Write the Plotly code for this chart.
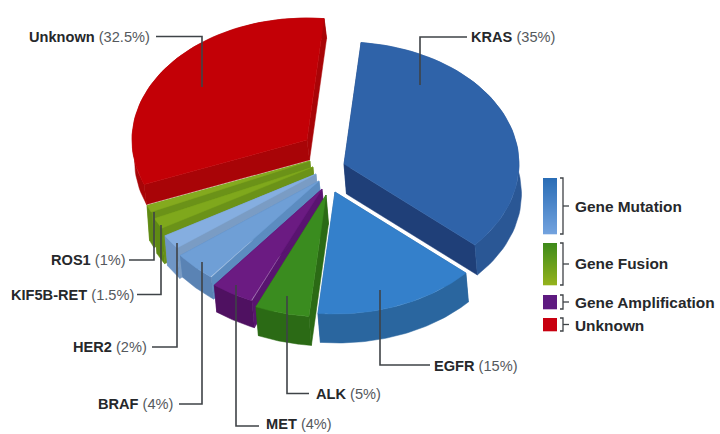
import numpy as np
import plotly.graph_objects as go

# Share of each driver alteration, clockwise from the top of the pie
genes = ["KRAS", "EGFR", "ALK", "MET", "BRAF", "HER2", "KIF5B-RET", "ROS1", "Unknown"]
shares = [35, 15, 5, 4, 4, 2, 1.5, 1, 32.5]
legend_groups = ["Gene Mutation", "Gene Fusion", "Gene Amplification", "Unknown"]

# Projection of the tilted pie (canvas pixels)
START_DEG = 5.6
RX, RY = 175, 122
LIFT_X = 2.5

# Where each exploded wedge has its tip, and how thick it is
TIPS = {"KRAS": (344, 164), "EGFR": (335, 192), "ALK": (326, 195), "MET": (322, 189),
        "BRAF": (319, 181), "HER2": (316, 174), "KIF5B-RET": (313, 167), "ROS1": (310, 161),
        "Unknown": (307, 140)}
DEPTH = {"KRAS": 30, "EGFR": 29, "ALK": 29, "MET": 27, "BRAF": 22, "HER2": 30,
         "KIF5B-RET": 35, "ROS1": 35, "Unknown": 20}
# top face, rim, radial walls
COLORS = {"KRAS": ("#2f63a9", "#2a5795", "#1f3f78"), "EGFR": ("#3480cb", "#2a669f", "#2a669f"),
          "ALK": ("#3a8c1f", "#2b6a15", "#2b6a15"), "MET": ("#6b1b82", "#4f1161", "#591470"),
          "BRAF": ("#6f9fd6", "#5a83b4", "#5c8cc0"), "HER2": ("#85aee0", "#6f96c6", "#7a9cc4"),
          "KIF5B-RET": ("#7fa81c", "#5f8a14", "#6b9218"), "ROS1": ("#84aa1e", "#5f8a14", "#6b9218"),
          "Unknown": ("#c30006", "#a80407", "#a80407")}
DRAW_ORDER = ["Unknown", "KRAS", "ROS1", "KIF5B-RET", "HER2", "BRAF", "MET", "ALK", "EGFR"]

fig = go.Figure()


def face(xs, ys, color):
    fig.add_trace(go.Scatter(x=xs, y=ys, mode="lines", fill="toself", fillcolor=color,
                             line=dict(color=color, width=0.5), hoverinfo="skip", showlegend=False))


edges = START_DEG + np.concatenate([[0], np.cumsum(shares)]) * 3.6
spans = {g: (edges[i], edges[i + 1]) for i, g in enumerate(genes)}

for gene in DRAW_ORDER:
    a0, a1 = np.radians(spans[gene])
    tx, ty = TIPS[gene]
    d = DEPTH[gene]
    top_c, rim_c, wall_c = COLORS[gene]
    t = np.linspace(a0, a1, 60)
    ax = tx + RX * np.sin(t)
    ay = ty - RY * np.cos(t)
    # radial walls first, then the rim, then the top face over them
    for k in (0, -1):
        face([tx, ax[k], ax[k] + LIFT_X, tx + LIFT_X, tx],
             [ty, ay[k], ay[k] + d, ty + d, ty], wall_c)
    face(np.concatenate([ax, ax[::-1] + LIFT_X, ax[:1]]),
         np.concatenate([ay, ay[::-1] + d, ay[:1]]), rim_c)
    face(np.concatenate([[tx], ax, [tx]]), np.concatenate([[ty], ay, [ty]]), top_c)

# Leader lines from each wedge to its label
leaders = [
    ([156, 202, 202], [36.5, 36.5, 87]),
    ([467, 420, 420], [37, 37, 85]),
    ([380, 380, 430], [290, 365, 365]),
    ([287, 287, 309], [296, 393.5, 393.5]),
    ([236, 236, 259], [285, 426, 426]),
    ([202, 202, 179], [262, 404, 404]),
    ([177, 177, 152], [243, 347, 347]),
    ([161, 161, 137], [225, 294.5, 294.5]),
    ([154, 154, 129], [212, 260, 260]),
]
for xs, ys in leaders:
    fig.add_trace(go.Scatter(x=xs, y=ys, mode="lines", line=dict(color="#3f4347", width=1.6),
                             hoverinfo="skip", showlegend=False))

FONT = "Liberation Sans"
label_pos = {"Unknown": (152, 37, "right"), "KRAS": (469, 37, "left"), "EGFR": (432, 366, "left"),
             "ALK": (314, 394, "left"), "MET": (264, 424, "left"), "BRAF": (175, 404, "right"),
             "HER2": (149, 347, "right"), "KIF5B-RET": (136, 295, "right"), "ROS1": (128, 260, "right")}
annotations = []
for gene, share in zip(genes, shares):
    x, y, anchor = label_pos[gene]
    annotations.append(dict(x=x, y=y, xref="x", yref="y", xanchor=anchor, yanchor="middle", showarrow=False,
                            text=f"<b>{gene}</b> <span style='color:#55595d'>({share}%)</span>",
                            font=dict(family=FONT, size=14.6, color="#26282b")))

# Colour key: gradient bars with a bracket and caption per group
key_bars = [(178, 234, "#2a6db6", "#72a2de"), (243, 285, "#3e8a1a", "#93b21c"),
            (295, 309, "#5e1a80", "#5e1a80"), (318, 331, "#c80010", "#c80010")]
key_text_y = [206, 263, 302, 325]


def mix(c0, c1, f):
    a = np.array([int(c0[i:i + 2], 16) for i in (1, 3, 5)])
    b = np.array([int(c1[i:i + 2], 16) for i in (1, 3, 5)])
    r, g, bl = (a + (b - a) * f).round().astype(int)
    return f"rgb({r},{g},{bl})"


shapes = []
for (y0, y1, c0, c1), caption, ty in zip(key_bars, legend_groups, key_text_y):
    steps = max(int(y1 - y0), 1)
    for i in range(steps):
        shapes.append(dict(type="rect", xref="x", yref="y", x0=543, x1=557,
                           y0=y0 + i, y1=y0 + i + 1.3, line_width=0,
                           fillcolor=mix(c0, c1, i / max(steps - 1, 1))))
    mid = (y0 + y1) / 2
    fig.add_trace(go.Scatter(x=[560, 563, 563, 560], y=[y0, y0, y1, y1], mode="lines",
                             line=dict(color="#3f4347", width=1.3), hoverinfo="skip", showlegend=False))
    fig.add_trace(go.Scatter(x=[563, 569], y=[mid, mid], mode="lines",
                             line=dict(color="#3f4347", width=1.3), hoverinfo="skip", showlegend=False))
    annotations.append(dict(x=573, y=ty, xref="x", yref="y", xanchor="left", yanchor="middle", showarrow=False,
                            text=f"<b>{caption}</b>", font=dict(family=FONT, size=15.4, color="#26282b")))

fig.update_layout(
    width=720, height=434, margin=dict(l=0, r=0, t=0, b=0),
    paper_bgcolor="white", plot_bgcolor="white", showlegend=False,
    xaxis=dict(range=[0, 720], visible=False, fixedrange=True),
    yaxis=dict(range=[434, 0], visible=False, fixedrange=True),
    annotations=annotations, shapes=shapes,
)
fig.write_html("out.html")
